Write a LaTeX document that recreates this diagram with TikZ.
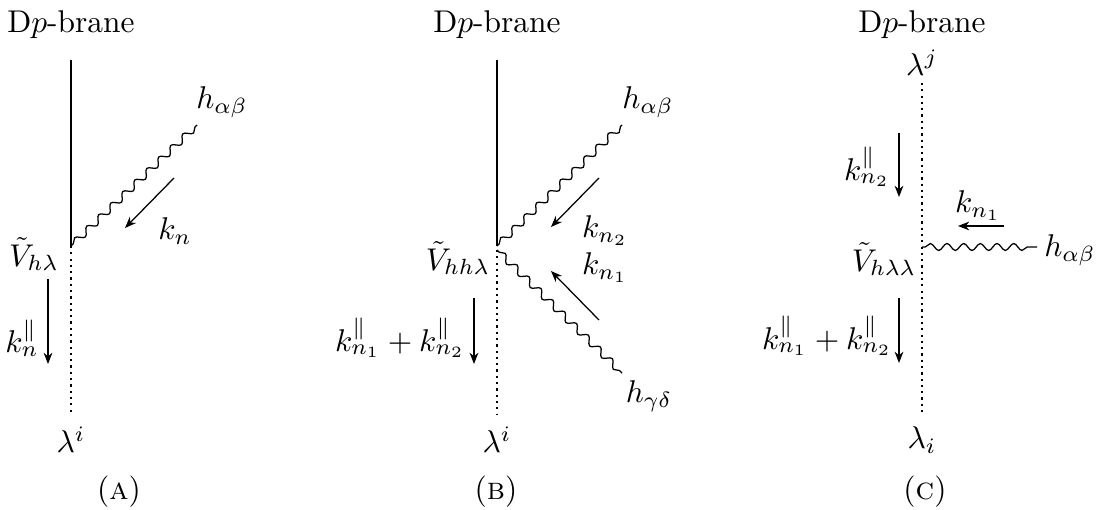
\documentclass[tikz,border=0pt]{standalone}
\usepackage{amsmath,amssymb}
\usetikzlibrary{arrows.meta,decorations.pathmorphing}

\begin{document}
\begin{tikzpicture}[
x=0.318pt, y=-0.318pt,
lbl/.style={inner sep=0pt},
brane/.style={thin},
grav/.style={decorate, decoration={snake, amplitude=1.1pt, segment length=5.3pt, pre length=1pt, post length=0.5pt}},
openstr/.style={line width=0.7pt, dash pattern=on 0.7pt off 1.3pt},
mom/.style={-{Stealth[length=3.6pt, width=2.8pt]}}
]
\useasboundingbox (0,0) rectangle (1100,510);

% (a) one graviton
\node[lbl] (braneA) at (71,25) {D$p$-brane};
\coordinate (topA) at (71,60);
\coordinate (vA) at (71,246);
\coordinate (botA) at (71,415);
\coordinate (gA) at (197,125);
\node[lbl] (hA) at (222,102) {$h_{\alpha\beta}$};
\node[lbl] (VA) at (34,254) {$\tilde{V}_{h\lambda}$};
\node[lbl] (lamA) at (71,440) {$\lambda^i$};
\coordinate (kAs) at (174,178);
\coordinate (kAe) at (125,228);
\node[lbl] (knA) at (175,231) {$k_n$};
\coordinate (pAs) at (48,279);
\coordinate (pAe) at (48,364);
\node[lbl] (pnA) at (22,338) {$k_n^{\parallel}$};
\node[lbl] (capA) at (119,492) {(\textsc{a})};
\draw[brane] (topA) -- (vA);
\draw[openstr] (vA) -- (botA);
\draw[grav] (vA) -- (gA);
\draw[mom] (kAs) -- (kAe);
\draw[mom] (pAs) -- (pAe);

% (b) two gravitons
\node[lbl] (braneB) at (497,25) {D$p$-brane};
\coordinate (topB) at (497,60);
\coordinate (vB) at (497,246);
\coordinate (vB2) at (497,250);
\coordinate (botB) at (497,415);
\coordinate (gB1) at (622,125);
\coordinate (gB2) at (622,373);
\node[lbl] (hB1) at (648,102) {$h_{\alpha\beta}$};
\node[lbl] (hB2) at (649,396) {$h_{\gamma\delta}$};
\node[lbl] (VB) at (458,258) {$\tilde{V}_{hh\lambda}$};
\node[lbl] (lamB) at (497,440) {$\lambda^i$};
\coordinate (kB2s) at (599,178);
\coordinate (kB2e) at (551,227);
\coordinate (kB1s) at (599,320);
\coordinate (kB1e) at (551,271);
\node[lbl] (kn2B) at (605,231) {$k_{n_2}$};
\node[lbl] (kn1B) at (605,268) {$k_{n_1}$};
\coordinate (pBs) at (474,298);
\coordinate (pBe) at (474,364);
\node[lbl] (pnB) at (400,338) {$k_{n_1}^{\parallel}+k_{n_2}^{\parallel}$};
\node[lbl] (capB) at (496,492) {(\textsc{b})};
\draw[brane] (topB) -- (vB);
\draw[openstr] (vB2) -- (botB);
\draw[grav] (vB) -- (gB1);
\draw[grav] (vB2) -- (gB2);
\draw[mom] (kB2s) -- (kB2e);
\draw[mom] (kB1s) -- (kB1e);
\draw[mom] (pBs) -- (pBe);

% (c) graviton on the open string
\node[lbl] (braneC) at (922,25) {D$p$-brane};
\node[lbl] (lamjC) at (922,63) {$\lambda^j$};
\coordinate (topC) at (922,83);
\coordinate (vC) at (922,247);
\coordinate (botC) at (922,413);
\coordinate (gC) at (1037,247);
\node[lbl] (hC) at (1070,250) {$h_{\alpha\beta}$};
\node[lbl] (VC) at (884,259) {$\tilde{V}_{h\lambda\lambda}$};
\node[lbl] (lamiC) at (922,440) {$\lambda_i$};
\coordinate (kCs) at (1004,226);
\coordinate (kCe) at (958,226);
\node[lbl] (kn1C) at (978,206) {$k_{n_1}$};
\coordinate (pC2s) at (899,133);
\coordinate (pC2e) at (899,197);
\node[lbl] (pn2C) at (867,167) {$k_{n_2}^{\parallel}$};
\coordinate (pCs) at (899,298);
\coordinate (pCe) at (899,363);
\node[lbl] (pnC) at (827,336) {$k_{n_1}^{\parallel}+k_{n_2}^{\parallel}$};
\node[lbl] (capC) at (925,492) {(\textsc{c})};
\draw[openstr] (topC) -- (botC);
\draw[grav] (vC) -- (gC);
\draw[mom] (kCs) -- (kCe);
\draw[mom] (pC2s) -- (pC2e);
\draw[mom] (pCs) -- (pCe);
\end{tikzpicture}
\end{document}
